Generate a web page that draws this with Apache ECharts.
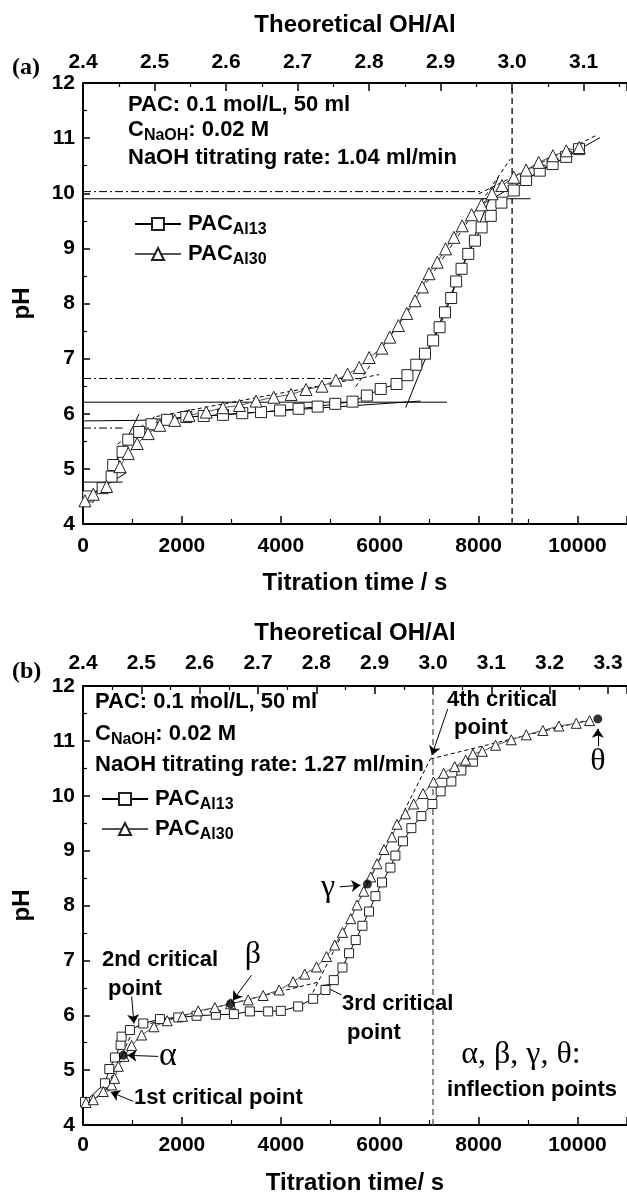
<!DOCTYPE html>
<html><head><meta charset="utf-8">
<script src="https://cdn.jsdelivr.net/npm/echarts@6/dist/echarts.min.js"></script>
<style>html,body{margin:0;padding:0;background:#fff}#c{width:627px;height:1196px}</style>
</head><body><div id="c"></div>
<script>
// ---------- Panel (a): 1.04 ml/min ----------
const timeAl13a = [107,397,578,611,800,915,1136,1385,1700,2090,2440,2830,3220,3600,3985,4360,4745,5100,5450,5740,6020,6340,6560,6740,6915,7080,7210,7320,7445,7545,7655,7790,7925,8060,8245,8460,8710,8960,9235,9495,9770,10030];
const pHAl13a   = [4.50,4.65,4.86,5.07,5.31,5.53,5.67,5.81,5.89,5.94,5.96,5.98,6.01,6.03,6.06,6.09,6.13,6.18,6.22,6.33,6.45,6.54,6.70,6.89,7.09,7.33,7.57,7.84,8.10,8.40,8.63,8.90,9.14,9.38,9.59,9.83,10.05,10.24,10.41,10.53,10.66,10.80];
const timeAl30a = [40,208,477,746,915,1095,1317,1552,1855,2143,2493,2829,3165,3500,3857,4207,4510,4832,5114,5349,5585,5786,6042,6203,6377,6546,6714,6861,6996,7163,7332,7500,7667,7857,8058,8272,8474,8710,8960,9214,9502,9772,10034];
const pHAl30a   = [4.42,4.54,4.68,5.04,5.28,5.46,5.64,5.79,5.88,5.97,6.03,6.11,6.15,6.23,6.30,6.35,6.44,6.50,6.61,6.72,6.84,7.02,7.19,7.39,7.60,7.82,8.05,8.30,8.54,8.75,8.99,9.20,9.41,9.61,9.79,9.99,10.14,10.29,10.42,10.56,10.68,10.77,10.83];
// tangent / reference lines: [t1, pH1, t2, pH2, style]
const fitLinesA = [
  [0,9.90,9050,9.90,'solid'],
  [0,10.03,8065,10.03,'dashdot'],
  [0,6.64,5650,6.64,'dashdot'],
  [0,6.21,7360,6.21,'solid'],
  [0,5.87,1150,5.88,'solid'],
  [1150,5.88,6825,6.23,'solid'],
  [0,5.74,800,5.74,'dashdot'],
  [0,4.76,800,4.76,'solid'],
  [0,4.45,880,4.93,'solid'],
  [545,4.92,1135,6.00,'solid'],
  [700,5.45,1500,5.98,'dashed'],
  [1485,5.95,5988,6.71,'dashed'],
  [6525,6.11,8400,10.30,'solid'],
  [8070,9.80,10456,11.01,'solid'],
  [8004,9.99,10357,11.04,'dashed'],
  [5514,6.49,8640,10.62,'dashed']
];
const ohAl3TimeA = 8677;   // time at which theoretical OH/Al = 3.0 (panel a)

// ---------- Panel (b): 1.27 ml/min ----------
const timeAl13b = [40,444,532,646,761,781,949,1219,1556,1926,2296,2687,3051,3374,3744,4000,4350,4653,4903,5071,5246,5380,5515,5650,5784,5913,6046,6216,6317,6471,6640,6842,7064,7232,7448,7650,7885];
const pHAl13b   = [4.42,4.76,5.02,5.23,5.46,5.61,5.73,5.85,5.93,5.96,5.99,6.01,6.02,6.07,6.07,6.08,6.16,6.30,6.46,6.64,6.87,7.13,7.37,7.63,7.89,8.17,8.42,8.69,8.91,9.17,9.41,9.63,9.85,10.08,10.26,10.46,10.62];
const timeAl30b = [61,208,410,580,640,713,830,984,1186,1434,1703,2014,2329,2667,2984,3340,3643,3966,4249,4485,4721,4923,5091,5246,5414,5541,5677,5818,5945,6087,6248,6349,6519,6687,6875,7087,7293,7515,7737,7885,8075,8343,8660,8963,9299,9622,9974,10242];
const pHAl30b   = [4.41,4.46,4.61,4.73,4.85,5.07,5.25,5.45,5.64,5.79,5.90,5.98,6.08,6.14,6.21,6.28,6.36,6.46,6.61,6.75,6.88,7.07,7.28,7.51,7.76,8.01,8.26,8.52,8.76,9.02,9.25,9.48,9.67,9.85,10.04,10.25,10.41,10.53,10.65,10.76,10.81,10.92,11.02,11.11,11.19,11.27,11.32,11.37];
const fitLinesB = [
  [0,4.36,606,4.67,'dashed'],
  [444,4.61,1016,5.73,'dashed'],
  [949,5.76,4788,6.61,'dashed'],
  [4583,6.30,7024,10.67,'dashed'],
  [7024,10.67,10310,11.40,'dashed']
];
// inflection points alpha, beta, gamma, theta
const inflectTime = [815,2984,5751,10410];
const inflectPH   = [5.27,6.21,8.39,11.40];
// annotation arrows: [t1, pH1, t2, pH2]
const arrowsB = [
  [7374,11.58,7055,10.74],
  [10410,10.90,10410,11.22],
  [5192,8.34,5610,8.37],
  [3408,6.73,3030,6.27],
  [984,6.34,1030,5.85],
  [1521,5.25,900,5.27],
  [1016,4.43,560,4.60],
  [5226,6.37,4822,6.55]
];
const ohAl3TimeB = 7077;   // time at which theoretical OH/Al = 3.0 (panel b)

// axis ranges / ticks
const tMax = 11000, tInterval = 2000;
const pHMin = 4, pHMax = 12;
const ohMin = 2.4, ohInterval = 0.1;

// ---------- build ----------
const SANS = "'Liberation Sans', Arial, Helvetica, sans-serif";
const SERIF = "'Liberation Serif', 'DejaVu Serif', serif";
const DASH = {solid:'solid', dashed:[4,3], dashdot:[8,3,2,3]};
const pairs = (ts, ps) => ts.map((t,i) => [t, ps[i]]);
const ohMaxA = ohMin + 0.6 * tMax / ohAl3TimeA;
const ohMaxB = ohMin + 0.6 * tMax / ohAl3TimeB;

const grids = [
  {left:83, top:83, width:544, height:441},
  {left:83, top:686, width:544, height:441}
];
const lbl = (size) => ({fontSize:size, fontWeight:'bold', fontFamily:SANS, color:'#000'});

function bottomAxis(g, gap, margin, name){
  return {type:'value', gridIndex:g, position:'bottom', min:0, max:tMax, interval:tInterval,
    name, nameLocation:'middle', nameGap:gap, nameTextStyle:lbl(24),
    axisLine:{show:true, onZero:false, lineStyle:{color:'#000', width:2}},
    axisTick:{show:true, inside:true, length:8, lineStyle:{color:'#000', width:1.5}},
    minorTick:{show:true, splitNumber:2, length:5, lineStyle:{color:'#000', width:1.2}},
    axisLabel:Object.assign(lbl(21), {margin, showMaxLabel:false, formatter:v => String(Math.round(v))}),
    splitLine:{show:false}};
}
function topAxis(g, max, gap, margin){
  return {type:'value', gridIndex:g, position:'top', min:ohMin, max, interval:ohInterval,
    name:'Theoretical OH/Al', nameLocation:'middle', nameGap:gap, nameTextStyle:lbl(24),
    axisLine:{show:true, onZero:false, lineStyle:{color:'#000', width:2}},
    axisTick:{show:true, inside:true, length:8, lineStyle:{color:'#000', width:1.5}},
    minorTick:{show:true, splitNumber:2, length:4, lineStyle:{color:'#000', width:1.2}},
    axisLabel:Object.assign(lbl(21), {margin, showMaxLabel:false, formatter:v => v.toFixed(1)}),
    splitLine:{show:false}};
}
function yAx(g){
  return {type:'value', gridIndex:g, min:pHMin, max:pHMax, interval:1,
    name:'pH', nameLocation:'middle', nameGap:49, nameRotate:90, nameTextStyle:lbl(24),
    axisLine:{show:true, onZero:false, lineStyle:{color:'#000', width:2}},
    axisTick:{show:true, inside:true, length:7, lineStyle:{color:'#000', width:1.5}},
    minorTick:{show:true, splitNumber:2, length:4, lineStyle:{color:'#000', width:1.2}},
    axisLabel:Object.assign(lbl(21), {margin:8, formatter:v => String(v)}),
    splitLine:{show:false}};
}

function dataSeries(name, data, xi, yi, sym, size, lineColor){
  return {name, type:'line', xAxisIndex:xi, yAxisIndex:yi, data, symbol:sym, symbolSize:size,
    showAllSymbol:true, animation:false, z:5,
    itemStyle:{color:'#fff', borderColor:'#222', borderWidth:1},
    lineStyle:{color:lineColor, width:1}};
}
function fitSeries(list, xi, yi){
  return list.map(f => ({type:'line', xAxisIndex:xi, yAxisIndex:yi, symbol:'none', silent:true, z:3,
    data:[[f[0],f[1]],[f[2],f[3]]], lineStyle:{color:'#000', width:1, type:DASH[f[4]]}}));
}
function vLine(xi, yi, color){
  return {type:'line', xAxisIndex:xi, yAxisIndex:yi, symbol:'none', silent:true, z:2,
    data:[[3.0,pHMin],[3.0,pHMax]], lineStyle:{color, width:1.5, type:[6,4]}};
}

const series = [
  dataSeries('PAC_Al13', pairs(timeAl13a,pHAl13a), 0, 0, 'rect', 11, '#000'),
  dataSeries('PAC_Al30', pairs(timeAl30a,pHAl30a), 0, 0, 'triangle', 12, '#555'),
  ...fitSeries(fitLinesA, 0, 0),
  vLine(1, 0, '#222'),
  dataSeries('PAC_Al13 ', pairs(timeAl13b,pHAl13b), 2, 1, 'rect', 9, '#000'),
  dataSeries('PAC_Al30 ', pairs(timeAl30b,pHAl30b), 2, 1, 'triangle', 10, '#555'),
  ...fitSeries(fitLinesB, 2, 1),
  vLine(3, 1, '#666'),
  {type:'scatter', xAxisIndex:2, yAxisIndex:1, data:pairs(inflectTime,inflectPH), symbol:'circle', symbolSize:9,
   itemStyle:{color:'#000'}, z:6, silent:true},
  {type:'line', xAxisIndex:2, yAxisIndex:1, data:[], silent:true,
   markLine:{silent:true, symbol:['none','arrow'], symbolSize:9, label:{show:false}, animation:false,
     lineStyle:{color:'#000', width:1, type:'solid'},
     data:arrowsB.map(a => [{coord:[a[0],a[1]]},{coord:[a[2],a[3]]}])}}
];

const rich = {
  m:{fontSize:22, fontWeight:'bold', fontFamily:SANS, color:'#000'},
  s:{fontSize:16, fontWeight:'bold', fontFamily:SANS, color:'#000', padding:[12,0,0,0]}
};
function legendAt(left, top, names){
  return {left, top, orient:'vertical', itemWidth:46, itemHeight:15, itemGap:5, selectedMode:false,
    data:names, formatter:n => '{m|PAC}{s|' + n.split('_')[1].trim() + '}',
    textStyle:{rich, padding:[0,0,0,2]}};
}

function txt(x, y, text, size, opts){
  opts = opts || {};
  return {type:'text', x, y, silent:true, z:10, style:{text, fontSize:size,
    fontWeight:opts.weight || 'bold', fontFamily:opts.family || SANS, fill:'#000',
    align:opts.align || 'left', verticalAlign:'middle', rich:opts.rich}};
}
const graphic = [
  txt(12, 68, '(a)', 24, {family:SERIF}),
  txt(128, 105, 'PAC: 0.1 mol/L, 50 ml', 22),
  txt(128, 130, '{m|C}{s|NaOH}{m|: 0.02 M}', 22, {rich}),
  txt(128, 158, 'NaOH titrating rate: 1.04 ml/min', 22),
  txt(12, 672, '(b)', 24, {family:SERIF}),
  txt(95, 702, 'PAC: 0.1 mol/L, 50 ml', 22),
  txt(95, 734, '{m|C}{s|NaOH}{m|: 0.02 M}', 22, {rich}),
  txt(95, 765, 'NaOH titrating rate: 1.27 ml/min', 22),
  txt(502, 700, '4th critical', 22, {align:'center'}),
  txt(481, 728, 'point', 22, {align:'center'}),
  txt(598, 762, 'θ', 32, {family:SERIF, weight:'normal', align:'center'}),
  txt(328, 888, 'γ', 32, {family:SERIF, weight:'normal', align:'center'}),
  txt(253, 955, 'β', 32, {family:SERIF, weight:'normal', align:'center'}),
  txt(160, 960, '2nd critical', 22, {align:'center'}),
  txt(135, 989, 'point', 22, {align:'center'}),
  txt(342, 1004, '3rd critical', 22),
  txt(374, 1033, 'point', 22, {align:'center'}),
  txt(168, 1056, 'α', 34, {family:SERIF, weight:'normal', align:'center'}),
  txt(521, 1055, 'α, β, γ, θ:', 32, {family:SERIF, weight:'normal', align:'center'}),
  txt(532, 1090, 'inflection points', 22, {align:'center'}),
  txt(134, 1098, '1st critical point', 22)
];

const chart = echarts.init(document.getElementById('c'), null, {renderer:'canvas', width:627, height:1196});
chart.setOption({
  animation:false,
  backgroundColor:'#fff',
  grid:grids,
  xAxis:[bottomAxis(0, 47, 12, 'Titration time / s'), topAxis(0, ohMaxA, 46, 10),
         bottomAxis(1, 46, 10, 'Titration time/ s'), topAxis(1, ohMaxB, 41, 12)],
  yAxis:[yAx(0), yAx(1)],
  legend:[legendAt(129, 208, ['PAC_Al13','PAC_Al30']), legendAt(96, 783, ['PAC_Al13 ','PAC_Al30 '])],
  series,
  graphic
});
</script></body></html>
